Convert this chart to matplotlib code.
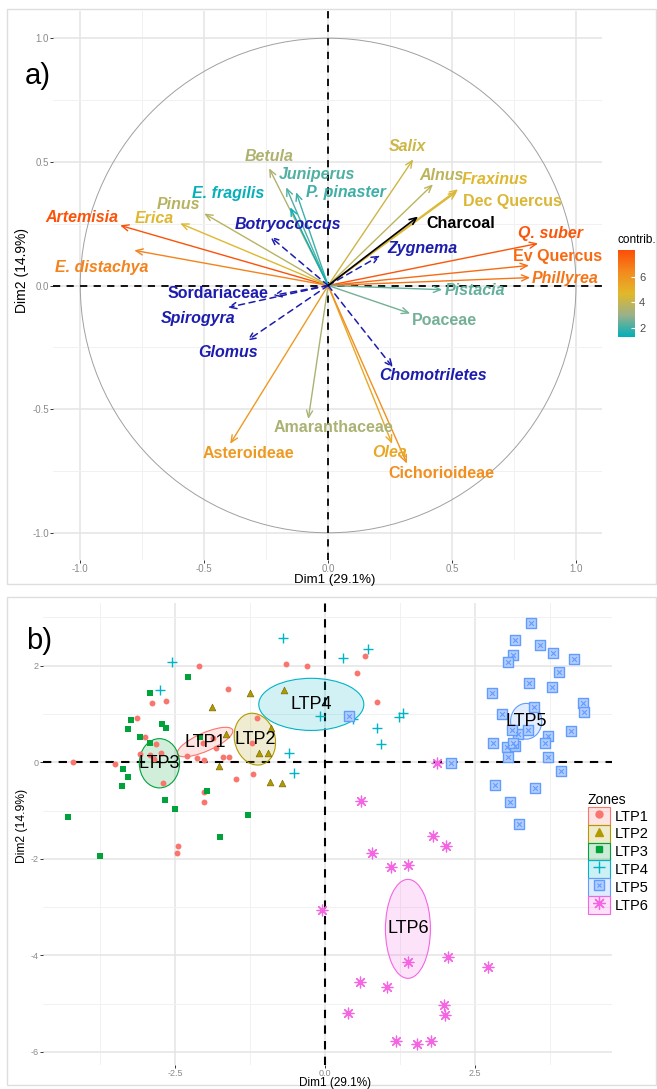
import numpy as np
import matplotlib
matplotlib.use('Agg')
import matplotlib.pyplot as plt
from matplotlib.patches import Circle, Ellipse, Rectangle, Patch
from matplotlib.lines import Line2D
from matplotlib.colors import LinearSegmentedColormap, Normalize, to_rgba
from matplotlib.cm import ScalarMappable
from matplotlib.legend_handler import HandlerTuple

plt.rcParams['font.family'] = ['Liberation Sans', 'DejaVu Sans']
plt.rcParams['axes.unicode_minus'] = False

# ---------------- panel a: variables ----------------
var_names = ['Artemisia', 'E. distachya', 'Erica', 'Pinus', 'Betula', 'Juniperus',
             'P. pinaster', 'E. fragilis', 'Salix', 'Alnus', 'Fraxinus', 'Dec Quercus',
             'Q. suber', 'Ev Quercus', 'Phillyrea', 'Pistacia', 'Poaceae',
             'Amaranthaceae', 'Asteroideae', 'Olea', 'Cichorioideae']
var_x = [-0.839, -0.782, -0.597, -0.500, -0.238, -0.169, -0.129, -0.153, 0.343, 0.423,
         0.524, 0.520, 0.847, 0.810, 0.815, 0.460, 0.331, -0.080, -0.395, 0.258, 0.318]
var_y = [0.243, 0.142, 0.251, 0.291, 0.474, 0.397, 0.377, 0.316, 0.510, 0.409,
         0.389, 0.380, 0.170, 0.081, 0.032, -0.017, -0.113, -0.540, -0.640, -0.640, -0.720]
var_contrib = [8.0, 6.6, 4.6, 3.7, 3.5, 2.2, 2.0, 1.4, 4.2, 3.8, 4.6, 4.5,
               7.9, 7.3, 7.0, 2.4, 2.6, 3.4, 5.8, 5.3, 6.2]
var_lab_x = [-0.992, -0.915, -0.702, -0.605, -0.238, -0.045, 0.073, -0.403, 0.319, 0.456,
             0.675, 0.742, 0.899, 0.927, 0.956, 0.593, 0.468, 0.020, -0.323, 0.250, 0.456]
var_lab_y = [0.275, 0.073, 0.271, 0.328, 0.522, 0.450, 0.377, 0.372, 0.563, 0.445,
             0.429, 0.340, 0.211, 0.117, 0.028, -0.020, -0.142, -0.573, -0.680, -0.676, -0.761]
var_italic = [True, True, True, True, True, True, True, True, True, True, True, False,
              True, False, True, True, False, False, False, True, False]

# supplementary variables (dashed)
sup_names = ['Botryococcus', 'Zygnema', 'Sordariaceae', 'Spirogyra', 'Glomus', 'Chomotriletes']
sup_x = [-0.234, 0.210, -0.222, -0.405, -0.327, 0.262]
sup_y = [0.198, 0.121, -0.040, -0.089, -0.223, -0.332]
sup_lab_x = [-0.161, 0.379, -0.444, -0.524, -0.403, 0.423]
sup_lab_y = [0.247, 0.150, -0.032, -0.134, -0.271, -0.364]
sup_italic = [True, True, False, True, True, True]

charcoal_x, charcoal_y = 0.363, 0.279
charcoal_lab = (0.537, 0.251)

# ---------------- panel b: individuals ----------------
zones = ['LTP1', 'LTP2', 'LTP3', 'LTP4', 'LTP5', 'LTP6']
ltp1_x = [-4.20, -3.50, -2.10, -1.62, -0.65, -0.30, -2.88, -2.65, -3.13, -3.00, -2.82, -2.92,
          -2.73, -2.85, -3.08, -2.70, -2.30, -2.13, -2.02, -1.70, -1.60, -1.48, -1.20, -1.13,
          -1.22, -2.02, -2.02, -1.82, -2.45, -2.47, 0.67, 0.53, 0.87, -1.87, -2.03]
ltp1_y = [0.00, -0.04, 2.00, 1.51, 2.03, 1.99, 1.22, 1.26, 0.91, 0.52, 0.37, 0.15,
          0.20, 0.06, 0.17, -0.43, 0.14, 0.08, 0.04, 0.10, 0.10, -0.35, -0.25, 0.91,
          0.39, -0.62, -0.83, 0.29, -1.74, -1.88, 2.20, 1.85, 1.25, 0.50, 0.41]
ltp2_x = [-1.25, -1.88, -0.68, -0.90, -1.65, -1.10, -0.95, -1.77, -0.92, -0.72]
ltp2_y = [1.43, 1.14, 1.49, 0.72, 0.58, 0.20, 0.19, -0.08, -0.41, -0.43]
ltp3_x = [-2.28, -2.92, -3.23, -3.28, -2.72, -2.65, -3.08, -2.92, -3.37, -3.28, -3.38, -2.67,
          -2.50, -1.97, -4.28, -1.28, -1.75, -3.75, -2.08]
ltp3_y = [1.76, 1.43, 0.87, 0.70, 0.79, 0.72, 0.52, 0.41, -0.13, -0.31, -0.50, -0.79,
          -0.97, -0.60, -1.14, -1.10, -1.55, -1.95, 0.52]
ltp4_x = [-0.70, -2.55, -2.75, -0.60, -0.52, -0.08, 0.72, 0.30, 0.47, 0.87, 0.93, 1.23, 1.30]
ltp4_y = [2.57, 2.07, 1.49, 0.20, -0.23, 0.95, 2.34, 2.17, 0.89, 0.72, 0.37, 0.93, 1.03]
ltp5_x = [3.43, 3.17, 3.58, 3.80, 4.15, 3.13, 3.05, 3.90, 3.40, 3.78, 2.78, 4.30, 4.32,
          3.48, 2.95, 4.10, 3.72, 3.67, 3.22, 3.12, 3.38, 2.80, 3.03, 3.17, 3.13, 3.05,
          3.72, 3.93, 2.83, 3.50, 3.08, 3.23, 2.10, 0.40]
ltp5_y = [2.88, 2.53, 2.44, 2.26, 2.15, 2.22, 2.07, 1.88, 1.64, 1.57, 1.43, 1.22, 1.04,
          1.14, 1.00, 0.64, 0.54, 0.41, 0.58, 0.66, 0.66, 0.39, 0.31, 0.33, 0.41, 0.12,
          0.12, -0.19, -0.46, -0.54, -0.83, -1.27, -0.02, 0.95]
ltp6_x = [1.80, 2.02, 0.78, 1.10, 1.38, -0.05, 1.38, 2.05, 2.72, 0.58, 1.03, 0.38, 1.98,
          2.00, 1.18, 1.53, 1.77, 1.87, 0.60]
ltp6_y = [-1.53, -1.74, -1.88, -2.17, -2.13, -3.06, -4.14, -4.04, -4.24, -4.55, -4.66, -5.20,
          -5.03, -5.24, -5.78, -5.84, -5.78, -0.02, -0.81]

# group mean ellipses
ell_cx = [-2.00, -1.17, -2.76, -0.23, 3.35, 1.38]
ell_cy = [0.42, 0.48, -0.02, 1.20, 0.85, -3.45]
ell_w = [1.05, 0.68, 0.67, 1.75, 0.52, 0.75]
ell_h = [0.36, 1.08, 1.02, 1.08, 0.74, 2.05]
ell_angle = [30, 8, 0, 0, 0, 0]

zone_colors = ['#F8766D', '#B09A00', '#00A33A', '#00B4C8', '#619CFF', '#F564E3']

W, H = 657, 1089
fig = plt.figure(figsize=(W / 100, H / 100), dpi=100)
fig.patch.set_facecolor('white')


def fx(px):
    return px / W


def fy(py):
    return 1 - py / H


# faint frames around both panels
for top, bot in [(9, 584), (597, 1085)]:
    fig.add_artist(Rectangle((fx(7), fy(bot)), fx(649), (bot - top) / H,
                             transform=fig.transFigure, fill=False, ec='#dedede', lw=1))


def style_axes(ax):
    for s in ax.spines.values():
        s.set_visible(False)
    ax.grid(which='major', color='#e4e4e4', lw=1.1, zorder=0)
    ax.grid(which='minor', color='#f1f1f1', lw=0.7, zorder=0)
    ax.set_axisbelow(True)
    ax.tick_params(which='major', length=2, width=0.7, color='#333333',
                   labelsize=7, labelcolor='#8a8a8a', pad=1)
    ax.tick_params(which='minor', length=0)


# ================= panel a =================
axa = fig.add_axes([fx(53), fy(560), fx(549), (560 - 11) / H])
axa.set_xlim(-1.11, 1.105)
axa.set_ylim(-1.11, 1.11)
axa.set_xticks([-1, -0.5, 0, 0.5, 1])
axa.set_yticks([-1, -0.5, 0, 0.5, 1])
axa.set_xticks([-0.75, -0.25, 0.25, 0.75], minor=True)
axa.set_yticks([-0.75, -0.25, 0.25, 0.75], minor=True)
axa.set_xticklabels(['-1.0', '-0.5', '0.0', '0.5', '1.0'])
axa.set_yticklabels(['-1.0', '-0.5', '0.0', '0.5', '1.0'])
style_axes(axa)

axa.add_patch(Circle((0, 0), 1, fill=False, ec='#a0a0a0', lw=0.7, zorder=1))
axa.axhline(0, color='black', lw=1.3, dashes=(4, 3.5), zorder=1.5)
axa.axvline(0, color='black', lw=1.3, dashes=(4, 3.5), zorder=1.5)

cmap = LinearSegmentedColormap.from_list(
    'contrib', [(0, '#00AFBB'), (0.25, '#9AB08A'), (0.5, '#E2B82A'),
                (0.75, '#F38A1E'), (1, '#FC4E07')])
norm = Normalize(vmin=min(var_contrib) - 0.1, vmax=max(var_contrib) + 0.1)

for name, x, y, c, lx, ly, it in zip(var_names, var_x, var_y, var_contrib,
                                     var_lab_x, var_lab_y, var_italic):
    col = cmap(norm(c))
    axa.annotate('', xy=(x, y), xytext=(0, 0), zorder=3,
                 arrowprops=dict(arrowstyle='->,head_length=0.5,head_width=0.22',
                                 color=col, lw=1.0, shrinkA=0, shrinkB=0))
    axa.text(lx, ly, name, color=col, fontsize=11.5, fontweight='bold',
             style='italic' if it else 'normal', ha='center', va='center', zorder=4)

sup_col = '#1c1cae'
for name, x, y, lx, ly, it in zip(sup_names, sup_x, sup_y, sup_lab_x, sup_lab_y, sup_italic):
    axa.annotate('', xy=(x, y), xytext=(0, 0), zorder=3,
                 arrowprops=dict(arrowstyle='->,head_length=0.5,head_width=0.22',
                                 color=sup_col, lw=1.1, ls=(0, (4, 3)),
                                 shrinkA=0, shrinkB=0))
    axa.text(lx, ly, name, color=sup_col, fontsize=11.5, fontweight='bold',
             style='italic' if it else 'normal', ha='center', va='center', zorder=4)

axa.annotate('', xy=(charcoal_x, charcoal_y), xytext=(0, 0), zorder=3,
             arrowprops=dict(arrowstyle='->,head_length=0.5,head_width=0.22',
                             color='black', lw=1.2, shrinkA=0, shrinkB=0))
axa.text(charcoal_lab[0], charcoal_lab[1], 'Charcoal', color='black', fontsize=11.5,
         fontweight='bold', ha='center', va='center', zorder=4)

fig.text(fx(335), fy(580), 'Dim1 (29.1%)', fontsize=9.5, ha='center', va='center')
fig.text(fx(22), fy(270), 'Dim2 (14.9%)', fontsize=10, ha='center', va='center',
         rotation=90)
fig.text(fx(38), fy(76), 'a)', fontsize=21, ha='center', va='center')

# colour bar for contributions
cax = fig.add_axes([fx(618), fy(337), fx(17), 87 / H])
sm = ScalarMappable(norm=norm, cmap=cmap)
cb = fig.colorbar(sm, cax=cax, ticks=[2, 4, 6])
cb.outline.set_visible(False)
cax.tick_params(length=3, width=0.8, color='white', direction='in',
                labelsize=8, labelcolor='#4d4d4d', pad=3)
fig.text(fx(618), fy(240), 'contrib.', fontsize=8.5, ha='left', va='center')

# ================= panel b =================
axb = fig.add_axes([fx(43), fy(1065), fx(569), (1065 - 603) / H])
axb.set_xlim(-4.7, 4.78)
axb.set_ylim(-6.27, 3.3)
axb.set_xticks([-2.5, 0, 2.5])
axb.set_xticklabels(['-2.5', '0.0', '2.5'])
axb.set_yticks([-6, -4, -2, 0, 2])
axb.set_yticklabels(['-6', '-4', '-2', '0', '2'])
axb.set_xticks([-3.75, -1.25, 1.25, 3.75], minor=True)
axb.set_yticks([-5, -3, -1, 1, 3], minor=True)
style_axes(axb)
axb.tick_params(which='major', labelsize=6.5)

axb.axhline(0, color='black', lw=1.5, dashes=(4, 3.5), zorder=1.5)
axb.axvline(0, color='black', lw=1.5, dashes=(4, 3.5), zorder=1.5)

for cx, cy, w, h, a, col in zip(ell_cx, ell_cy, ell_w, ell_h, ell_angle, zone_colors):
    axb.add_patch(Ellipse((cx, cy), w, h, angle=a, fc=to_rgba(col, 0.18), ec=col,
                          lw=0.8, zorder=2))

c1, c2, c3, c4, c5, c6 = zone_colors
axb.scatter(ltp1_x, ltp1_y, marker='o', s=18, color=c1, lw=0, zorder=3)
axb.scatter(ltp2_x, ltp2_y, marker='^', s=24, color=c2, edgecolor='#6f6200', lw=0.4, zorder=3)
axb.scatter(ltp3_x, ltp3_y, marker='s', s=18, color=c3, lw=0, zorder=3)
axb.scatter(ltp4_x, ltp4_y, marker='+', s=60, color=c4, lw=1.0, zorder=3)
axb.scatter(ltp5_x, ltp5_y, marker='s', s=42, fc='#b3cdff', ec=c5, lw=1.0, zorder=3)
axb.scatter(ltp5_x, ltp5_y, marker='x', s=12, color=c5, lw=0.8, zorder=3)
axb.scatter(ltp6_x, ltp6_y, marker=(8, 2, 0), s=60, color=c6, lw=0.9, zorder=3)

for cx, cy, name in zip(ell_cx, ell_cy, zones):
    axb.text(cx, cy, name, fontsize=13, ha='center', va='center', zorder=4)

fig.text(fx(335), fy(1083), 'Dim1 (29.1%)', fontsize=8.5, ha='center', va='center')
fig.text(fx(22), fy(826), 'Dim2 (14.9%)', fontsize=8.7, ha='center', va='center',
         rotation=90)
fig.text(fx(39), fy(641), 'b)', fontsize=21, ha='center', va='center')

# legend: shaded key with the group marker on top
mk = [dict(marker='o', markersize=5, color=c1, ls=''),
      dict(marker='^', markersize=6, color=c2, ls=''),
      dict(marker='s', markersize=5, color=c3, ls=''),
      dict(marker='+', markersize=9, color=c4, ls='', mew=1.0),
      dict(marker='s', markersize=7, mfc='#b3cdff', mec=c5, ls='', mew=1.0),
      dict(marker=(8, 2, 0), markersize=9, color=c6, ls='', mew=0.9)]
handles = []
for col, m in zip(zone_colors, mk):
    h = [Patch(fc=to_rgba(col, 0.2), ec=col, lw=0.8), Line2D([], [], **m)]
    if col == c5:
        h.append(Line2D([], [], marker='x', markersize=3.5, color=c5, ls='', mew=0.8))
    handles.append(tuple(h))
leg = axb.legend(handles, zones, handler_map={tuple: HandlerTuple(ndivide=1, pad=0)},
                 title='Zones', loc='upper left', bbox_to_anchor=(fx(588), fy(793)),
                 bbox_transform=fig.transFigure, frameon=False, fontsize=10.5,
                 title_fontsize=10, handlelength=1.5, handleheight=1.5, labelspacing=0.0,
                 handletextpad=0.35, borderpad=0, borderaxespad=0, alignment='left')

fig.savefig('out.png', dpi=100)
